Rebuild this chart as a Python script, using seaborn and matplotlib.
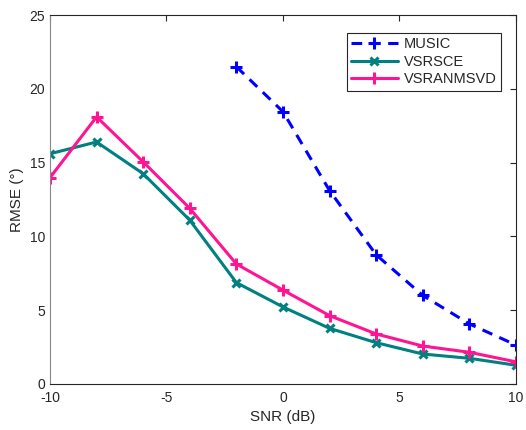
import matplotlib
matplotlib.use('Agg')
import matplotlib.pyplot as plt
import seaborn as sns
import pandas as pd

# SNR values (dB) and RMSE per method
snr = [-10, -8, -6, -4, -2, 0, 2, 4, 6, 8, 10]
snr_music = [-2, 0, 2, 4, 6, 8, 10]
rmse_music = [21.5, 18.45, 13.1, 8.75, 6.0, 4.07, 2.64]
rmse_vsrsce = [15.6, 16.4, 14.25, 11.1, 6.87, 5.22, 3.77, 2.8, 2.03, 1.74, 1.27]
rmse_vsranmsvd = [13.98, 18.1, 15.05, 11.9, 8.13, 6.36, 4.63, 3.39, 2.57, 2.15, 1.5]

df = pd.concat([
    pd.DataFrame({'snr': snr_music, 'rmse': rmse_music, 'method': 'MUSIC'}),
    pd.DataFrame({'snr': snr, 'rmse': rmse_vsrsce, 'method': 'VSRSCE'}),
    pd.DataFrame({'snr': snr, 'rmse': rmse_vsranmsvd, 'method': 'VSRANMSVD'}),
])

sns.set_style('white')
plt.rcParams['font.family'] = ['Liberation Sans', 'DejaVu Sans']
plt.rcParams['axes.unicode_minus'] = False

fig = plt.figure(figsize=(5.26, 4.30), dpi=100)
ax = fig.add_axes([0.095, 0.107, 0.886, 0.858])

palette = {'MUSIC': '#0000ff', 'VSRSCE': '#008080', 'VSRANMSVD': '#ff1493'}
markers = {'MUSIC': '+', 'VSRSCE': 'x', 'VSRANMSVD': '+'}
msizes = {'MUSIC': 8, 'VSRSCE': 5.5, 'VSRANMSVD': 8}
styles = {'MUSIC': (0, (3.5, 2.5)), 'VSRSCE': '-', 'VSRANMSVD': '-'}

for m in ['MUSIC', 'VSRSCE', 'VSRANMSVD']:
    d = df[df['method'] == m]
    sns.lineplot(data=d, x='snr', y='rmse', ax=ax, color=palette[m], label=m,
                 linewidth=2.2, linestyle=styles[m], marker=markers[m],
                 markersize=msizes[m], markeredgewidth=2.2,
                 markeredgecolor=palette[m])

ax.set_xlim(-10, 10)
ax.set_ylim(0, 25)
ax.set_xticks([-10, -5, 0, 5, 10])
ax.set_yticks([0, 5, 10, 15, 20, 25])
ax.tick_params(direction='in', length=4, width=0.8, labelsize=10, colors='#262626',
               top=True, right=True)
ax.tick_params(axis='x', pad=5)
for s in ax.spines.values():
    s.set_color('#262626')
    s.set_linewidth(0.8)
ax.spines['left'].set_color('#888888')
ax.set_xlabel('SNR (dB)', fontsize=11, color='#262626')
ax.set_ylabel('RMSE (°)', fontsize=11, color='#262626')

leg = ax.legend(loc='upper right', bbox_to_anchor=(0.983, 0.972), fontsize=10.5,
                frameon=True, fancybox=False, edgecolor='#262626', framealpha=1,
                handlelength=3.2, handletextpad=0.4, borderpad=0.3, labelspacing=0.25)
leg.get_frame().set_linewidth(0.8)

fig.savefig('out.png', dpi=100)
